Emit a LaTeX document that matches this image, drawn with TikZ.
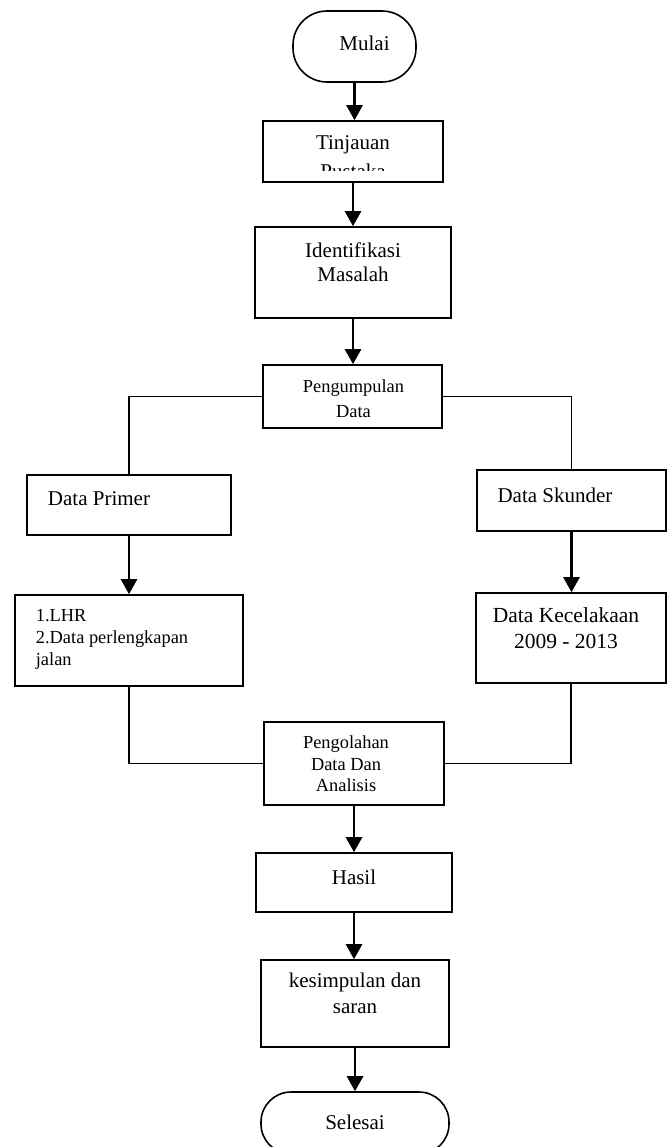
\documentclass[tikz,border=0pt]{standalone}
\usepackage{fontspec}
\setmainfont{Liberation Serif}
\usetikzlibrary{arrows.meta}
\begin{document}
\begin{tikzpicture}[x=1pt,y=-1pt,
  box/.style={draw, line width=1.6pt, inner sep=0pt},
  term/.style={draw, line width=1.6pt, inner sep=0pt},
  big/.style={font=\fontsize{21}{24}\selectfont},
  arr/.style={line width=2.6pt, -{Triangle[length=15pt,width=16pt]}},
  link/.style={line width=1.5pt},
]
\useasboundingbox (0,0) rectangle (670,1147);

\node[term, rounded corners=34pt, minimum width=123pt, minimum height=71pt,
  label={[name=mulai-t, big, xshift=10pt, yshift=3.5pt]center:Mulai}] (mulai) at (354.5,46.5) {};

\node[box, minimum width=180pt, minimum height=61pt] (tinjauan) at (353,151.5) {};
\begin{scope}
  \clip (263,121) rectangle (443,171);
  \node[align=center, inner sep=0pt, font=\fontsize{21}{29}\selectfont] (tinjauan-t) at (353,157.5) {Tinjauan\\Pustaka};
\end{scope}

\node[box, minimum width=196pt, minimum height=91pt,
  label={[name=identifikasi-t, align=center, font=\fontsize{21}{24}\selectfont, yshift=10pt]center:{Identifikasi\\Masalah}}] (identifikasi) at (353,272.5) {};

\node[box, minimum width=179pt, minimum height=63pt,
  label={[name=pengumpulan-t, align=center, font=\fontsize{18.4}{25}\selectfont, yshift=-2.5pt, xshift=1pt]center:{Pengumpulan\\Data}}] (pengumpulan) at (352.5,396.5) {};

\node[box, minimum width=204pt, minimum height=60pt,
  label={[name=primer-t, big, xshift=-30pt, yshift=6pt]center:Data Primer}] (primer) at (129,505) {};

\node[box, minimum width=189pt, minimum height=61pt,
  label={[name=skunder-t, big, xshift=-16.5pt, yshift=5.5pt]center:Data Skunder}] (skunder) at (571.5,500.5) {};

\node[box, minimum width=228pt, minimum height=91pt,
  label={[name=lhr-t, align=left, font=\fontsize{18.4}{22}\selectfont, xshift=-17pt, yshift=1pt]center:{1.LHR\\2.Data perlengkapan\\jalan}}] (lhr) at (129,640.5) {};

\node[box, minimum width=190pt, minimum height=90pt,
  label={[name=kecelakaan-t, align=center, font=\fontsize{21.5}{26}\selectfont, xshift=-5pt, yshift=10pt]center:{Data Kecelakaan\\2009 - 2013}}] (kecelakaan) at (571,638) {};

\node[box, minimum width=180pt, minimum height=83pt,
  label={[name=pengolahan-t, align=center, font=\fontsize{18.4}{21.5}\selectfont, xshift=-8pt, yshift=-0.5pt]center:{Pengolahan\\Data Dan\\Analisis}}] (pengolahan) at (354,763.5) {};

\node[box, minimum width=196pt, minimum height=59pt,
  label={[name=hasil-t, big, yshift=5.5pt]center:Hasil}] (hasil) at (354,882.5) {};

\node[box, minimum width=188pt, minimum height=87pt,
  label={[name=kesimpulan-t, align=center, font=\fontsize{21}{26}\selectfont, yshift=10pt]center:{kesimpulan dan\\saran}}] (kesimpulan) at (355,1003.5) {};

\node[term, rounded corners=30pt, minimum width=188pt, minimum height=62pt,
  label={[name=selesai-t, big, yshift=1pt]center:Selesai}] (selesai) at (355,1123) {};

% arrows
\draw[arr] (mulai.south) -- (mulai.south |- tinjauan.north);
\draw[arr] (tinjauan.south) -- (tinjauan.south |- identifikasi.north);
\draw[arr] (identifikasi.south) -- (identifikasi.south |- pengumpulan.north);
\draw[arr] (primer.south) -- (primer.south |- lhr.north);
\draw[arr] (skunder.south) -- (skunder.south |- kecelakaan.north);
\draw[arr] (pengolahan.south) -- (pengolahan.south |- hasil.north);
\draw[arr] (hasil.south) -- (hasil.south |- kesimpulan.north);
\draw[arr] (kesimpulan.south) -- (kesimpulan.south |- selesai.north);

% branch links
\draw[link] (pengumpulan.west) -| (primer.north);
\draw[link] (pengumpulan.east) -| (skunder.north);
\draw[link] (lhr.south) |- (pengolahan.west);
\draw[link] (kecelakaan.south) |- (pengolahan.east);
\end{tikzpicture}
\end{document}
